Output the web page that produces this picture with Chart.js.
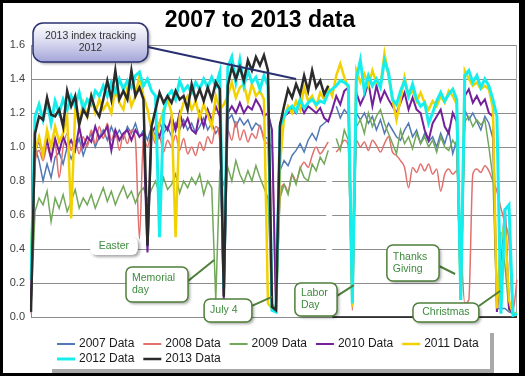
<!DOCTYPE html>
<html>
<head>
<meta charset="utf-8">
<script src="https://cdn.jsdelivr.net/npm/chart.js@4.4.1/dist/chart.umd.min.js"></script>
<style>
  html, body { margin: 0; padding: 0; background: #fff; }
  #frame { width: 516px; height: 370px; border-style: solid; border-color: #000; border-width: 3px 6px 3px 3px; }
  canvas { display: block; }
</style>
</head>
<body>
<div id="frame"><canvas id="myChart" width="516" height="370"></canvas></div>
<script>
// series names, one per year
const seriesNames = ["2007 Data", "2008 Data", "2009 Data", "2010 Data", "2011 Data", "2012 Data", "2013 Data"];

// index values, one point every ~3 days through the year
const data2007 = [
  0.06, 1.0, 0.92, 0.8, 0.9, 0.82, 0.94, 0.97, 0.9, 1.0,
  0.93, 0.99, 1.05, 0.95, 1.02, 1.08, 1.0, 1.06, 1.1, 1.04,
  1.12, 1.06, 1.1, 1.05, 1.12, 1.08, 1.14, 1.06, 1.1, 1.04,
  1.12, 1.06, 1.15, 1.08, 1.12, 1.06, 1.14, 1.1, 1.16, 1.1,
  1.14, 1.08, 1.12, 1.17, 1.1, 1.14, 1.08, 1.12, 0.13, 1.16,
  1.19, 1.12, 1.17, 1.13, 1.16, 1.1, 1.14, 1.12, 1.06, 1.05,
  0.05, 0.06, 0.86, 0.92, 0.89, 0.95, 0.98, 1.02, 0.97, 1.04,
  1.08, 1.04, 1.12, 1.14, 1.16, null, 1.24, 1.17, 1.22, 1.19,
  0.09, 1.2, 1.16, 1.2, 1.14, 1.18, 1.1, 1.16, 1.08, 1.14,
  1.1, 1.06, 1.04, 1.1, 1.14, 1.06, 1.1, 1.02, 1.08, 1.03,
  1.06, 1.0, 1.08, 1.02, 1.1, 0.96, 1.04, 0.1, 1.22, 1.16,
  1.2, 1.15, 1.1, 1.18, 1.14, 1.05, 0.05, 0.05, 0.05, 0.03,
  0.02, 0.02
];
const data2008 = [
  0.02, 0.9, 0.98, 0.92, 1.0, 0.94, 1.02, 0.82, 1.0, 1.08,
  0.98, 1.04, 0.96, 1.06, 1.0, 1.1, 1.02, 1.12, 1.05, 1.14,
  1.04, 1.1, 0.98, 1.08, 1.02, 1.1, 1.04, 0.46, 1.06, 1.0,
  1.08, 1.02, 1.06, 0.97, 1.04, 1.0, 1.07, 0.98, 1.05, 0.96,
  1.0, 0.95, 1.03, 0.98, 1.06, 1.02, 1.12, 1.04, 0.13, 1.1,
  1.04, 1.15, 1.04, 1.1, 1.03, 1.08, 1.05, 1.13, 1.04, 1.02,
  1.0, 0.06, 0.7, 0.78, 0.74, 0.84, 0.8, 0.87, 0.91, 0.88,
  0.95, 1.0, 0.96, 0.99, 1.03, null, 0.97, 1.0, 1.04, 1.01,
  0.04, 1.04, 1.0, 1.03, 0.98, 1.04, 1.01, 0.97, 1.02, 1.06,
  0.97, 0.95, 0.92, 0.88, 0.76, 0.88, 0.85, 0.9, 0.86, 0.9,
  0.84, 0.87, 0.74, 0.84, 0.87, 0.84, 0.86, 0.45, 0.08, 0.1,
  0.84, 0.87, 0.85, 0.89, 0.86, 0.8, 0.74, 0.64, 0.55, 0.45,
  0.04, 0.22
];
const data2009 = [
  0.05, 0.62, 0.7, 0.66, 0.74, 0.56, 0.7, 0.64, 0.72, 0.62,
  0.68, 0.75, 0.64, 0.7, 0.66, 0.72, 0.64, 0.7, 0.76, 0.68,
  0.74, 0.66, 0.72, 0.77, 0.7, 0.74, 0.67, 0.73, 0.76, 0.69,
  0.75, 0.8, 0.72, 0.82, 0.75, 0.78, 0.84, 0.73, 0.8, 0.76,
  0.82, 0.78, 0.84, 0.72, 0.8, 0.76, 0.1, 0.85, 0.78, 0.88,
  0.8, 0.92, 0.84, 0.79, 0.86, 0.8, 0.89, 0.82, 0.76, 0.7,
  0.08, 0.05, 0.7, 0.78, 0.72, 0.84, 0.78, 0.88, 0.82, 0.8,
  0.9, 0.86, 0.94, 0.9, 0.98, null, 1.05, 0.98, 1.1, 1.04,
  0.09, 1.12, 1.16, 1.08, 1.2, 1.12, 1.18, 1.22, 1.14, 1.08,
  1.02, 0.96, 1.1, 1.02, 1.06, 0.99, 1.08, 1.02, 1.06, 1.0,
  1.04, 0.97, 1.06, 1.0, 0.98, 1.04, 1.0, 0.1, 1.15, 1.18,
  1.12, 1.16, 1.13, 1.16, 1.0, 0.82, 0.05, 0.5, 0.3, 0.04,
  0.02, 0.02
];
const data2010 = [
  0.1, 0.98, 1.04, 0.95, 1.04, 0.93, 1.05, 0.97, 1.06, 1.0,
  1.04, 0.98, 1.12, 1.0, 1.06, 1.03, 1.12, 1.05, 1.08, 1.12,
  0.98, 1.1, 1.04, 1.08, 1.1, 1.04, 1.1, 1.06, 1.08, 0.38,
  1.08, 1.12, 1.06, 1.14, 1.1, 1.18, 1.1, 1.2, 1.12, 1.17,
  1.1, 1.08, 1.2, 1.12, 1.22, 1.16, 1.24, 1.18, 0.1, 1.2,
  1.24, 1.2, 1.26, 1.2, 1.24, 1.22, 1.28, 1.24, 1.18, 1.2,
  1.1, 0.05, 1.14, 1.18, 1.2, 1.23, 1.2, 1.26, 1.2, 1.24,
  1.22, 1.2, 1.23, 1.17, 1.15, 1.22, 1.3, 1.25, 1.33, 1.35,
  0.09, 1.32, 1.25, 1.3, 1.38, 1.24, 1.36, 1.27, 1.33, 1.28,
  1.24, 1.2, 1.26, 1.32, 1.22, 1.29, 1.22, 1.2, 1.1, 1.04,
  1.14, 1.18, 1.22, 1.12, 1.08, 1.2, 1.15, 0.1, 1.3, 1.34,
  1.26, 1.3, 1.25, 1.28, 1.2, 1.18, 0.03, 0.3, 0.64, 0.05,
  0.02, 0.02
];
const data2011 = [
  0.35, 0.98, 1.06, 0.95, 1.1, 1.0, 1.12, 1.03, 1.08, 1.18,
  0.58, 1.22, 1.14, 1.26, 1.18, 1.3, 1.2, 1.28, 1.22, 1.26,
  1.2, 1.34, 1.26, 1.22, 1.35, 1.24, 1.3, 1.42, 1.3, 1.22,
  1.1, 1.04, 1.14, 1.22, 1.28, 1.2, 0.47, 1.18, 1.26, 1.3,
  1.22, 1.27, 1.17, 1.25, 1.19, 1.12, 1.3, 1.22, 1.25, 1.3,
  1.38, 1.29, 1.35, 1.37, 1.27, 1.37, 1.3, 1.33, 1.28, 0.08,
  0.05, 0.05, 0.9, 1.17, 1.24, 1.2, 1.27, 1.22, 1.35, 1.27,
  1.3, 1.24, 1.32, 1.28, 1.35, 1.3, 1.42, 1.49, 1.41, 1.35,
  0.06, 1.45, 1.38, 1.43, 1.36, 1.45, 1.38, 1.36, 1.55, 1.42,
  1.28, 1.16, 1.28, 1.41, 1.3, 1.33, 1.27, 1.32, 1.26, 1.22,
  1.27, 1.24, 1.3, 1.26, 1.33, 1.3, 1.25, 0.1, 1.45, 1.4,
  1.36, 1.38, 1.34, 1.36, 1.34, 1.23, 0.05, 0.45, 0.55, 0.1,
  0.02, 0.02
];
const data2012 = [
  0.22, 1.18, 1.25, 1.16, 1.27, 1.14, 1.27, 1.2, 1.28, 1.22,
  1.3, 1.24, 1.32, 1.22, 1.28, 1.25, 1.33, 1.3, 1.36, 1.3,
  1.38, 1.32, 1.4, 1.34, 1.39, 1.35, 1.42, 1.44, 1.36, 1.4,
  1.33, 1.3, 0.47, 1.2, 1.3, 1.33, 1.28, 1.39, 1.33, 1.36,
  1.32, 1.38, 1.34, 1.4, 1.35, 1.41, 1.36, 1.44, 0.17, 1.47,
  1.53, 1.38, 1.51, 1.36, 1.45, 1.38, 1.41, 1.34, 1.42, 1.36,
  0.04, 0.03, 1.12, 1.18, 1.22, 1.24, 1.21, 1.28, 1.23, 1.26,
  1.28, 1.25, 1.27, 1.26, 1.32, 1.34, 1.36, 1.39, 1.38, 1.36,
  0.08, 1.4, 1.51, 1.33, 1.42, 1.36, 1.4, 1.35, 1.51, 1.44,
  1.28, 1.25, 1.33, 1.39, 1.3, 1.37, 1.28, 1.24, 1.26, 1.14,
  1.2, 1.27, 1.32, 1.27, 1.31, 1.34, 1.28, 0.1, 1.42, 1.45,
  1.38, 1.42, 1.35, 1.4, 1.36, 1.28, 1.18, 0.02, 0.63, 0.66,
  0.01, 0.02
];
// 2013 stops in early September
const data2013 = [
  0.03, 1.08, 1.18, 1.16, 1.29, 1.19, 1.18, 1.22, 1.12, 1.33,
  1.24, 1.3, 1.13, 1.22, 1.18, 1.3, 1.22, 1.18, 1.28, 1.39,
  1.28, 1.45, 1.28, 1.33, 1.28, 1.45, 1.3, 1.35, 1.28, 0.42,
  1.12, 1.22, 1.32, 1.26, 1.3, 1.26, 1.33, 1.28, 1.3, 1.22,
  1.37, 1.28, 1.34, 1.27, 1.35, 1.28, 1.38, 1.34, 0.12, 1.36,
  1.47, 1.4, 1.47, 1.39, 1.51, 1.45, 1.53, 1.48, 1.54, 1.45,
  0.06, 0.04, 1.13, 1.24, 1.34, 1.29, 1.37, 1.31, 1.42, 1.33,
  1.45, 1.35, 1.39, 1.31, 1.36
];

const allSeries = [data2007, data2008, data2009, data2010, data2011, data2012, data2013];
const dayIndex = data2012.map((v, i) => i);

const lineColors = ["#5079b6", "#e2706d", "#72a85a", "#74209a", "#f2d100", "#16eeee", "#2b2b2b"];
const lineWidths = [1.5, 1.5, 1.5, 2, 2.5, 3, 2.5];

// callouts, boxes given in data units [x0, yTop, x1, yBottom], tip = pointer line
const callouts = [
  { lines: ["2013 index tracking", "2012"], box: [0.5, 1.729, 29.1, 1.5], tip: [29.1, 1.588, 66.0, 1.4], kind: "index", align: "center" },
  { lines: ["Easter"], box: [14.7, 0.471, 26.6, 0.365], kind: "plain", align: "center" },
  { lines: ["Memorial", "day"], box: [23.65, 0.294, 39.1, 0.088], tip: [39.1, 0.212, 45.6, 0.335], kind: "green", align: "left" },
  { lines: ["July 4"], box: [43.1, 0.106, 55.0, -0.029], tip: [55.0, 0.065, 60.0, 0.118], kind: "green", align: "left" },
  { lines: ["Labor", "Day"], box: [65.7, 0.2, 76.2, 0.006], tip: [76.2, 0.124, 80.4, 0.188], kind: "green", align: "left" },
  { lines: ["Thanks", "Giving"], box: [88.6, 0.424, 101.6, 0.212], tip: [101.6, 0.3, 105.6, 0.253], kind: "green", align: "left" },
  { lines: ["Christmas"], box: [95.1, 0.082, 111.5, -0.029], tip: [111.5, 0.065, 116.8, 0.153], kind: "green", align: "center" }
];

// where the two pasted halves of the original chart meet
const seamSpan = [73.5, 75.0];

const FONT = '"Liberation Sans", Arial, sans-serif';
Chart.defaults.font.family = FONT;

function roundRect(ctx, x, y, w, h, r) {
  ctx.beginPath();
  ctx.moveTo(x + r, y);
  ctx.arcTo(x + w, y, x + w, y + h, r);
  ctx.arcTo(x + w, y + h, x, y + h, r);
  ctx.arcTo(x, y + h, x, y, r);
  ctx.arcTo(x, y, x + w, y, r);
  ctx.closePath();
}

function drawCallout(ctx, xs, ys, c) {
  const x0 = xs.getPixelForValue(c.box[0]);
  const y0 = ys.getPixelForValue(c.box[1]);
  const x1 = xs.getPixelForValue(c.box[2]);
  const y1 = ys.getPixelForValue(c.box[3]);
  const isIndex = c.kind === "index";
  const edge = isIndex ? "#283070" : "#4f7f3a";

  // pointer line
  if (c.tip) {
    ctx.save();
    ctx.strokeStyle = edge;
    ctx.lineWidth = 2;
    ctx.beginPath();
    ctx.moveTo(xs.getPixelForValue(c.tip[0]), ys.getPixelForValue(c.tip[1]));
    ctx.lineTo(xs.getPixelForValue(c.tip[2]), ys.getPixelForValue(c.tip[3]));
    ctx.stroke();
    ctx.restore();
  }

  // box with soft shadow
  ctx.save();
  ctx.shadowColor = "rgba(0,0,0,0.35)";
  ctx.shadowBlur = 3;
  ctx.shadowOffsetX = 2;
  ctx.shadowOffsetY = 2;
  roundRect(ctx, x0, y0, x1 - x0, y1 - y0, isIndex ? 10 : 6);
  if (isIndex) {
    const g = ctx.createLinearGradient(0, y0, 0, y1);
    g.addColorStop(0, "#ffffff");
    g.addColorStop(0.5, "#d8d8f0");
    g.addColorStop(1, "#a3a5d8");
    ctx.fillStyle = g;
  } else {
    ctx.fillStyle = "#ffffff";
  }
  ctx.fill();
  ctx.restore();
  if (c.kind !== "plain") {
    ctx.save();
    ctx.strokeStyle = edge;
    ctx.lineWidth = 1.5;
    roundRect(ctx, x0, y0, x1 - x0, y1 - y0, isIndex ? 10 : 6);
    ctx.stroke();
    ctx.restore();
  }

  // text
  ctx.save();
  ctx.font = "10.5px " + FONT;
  ctx.fillStyle = isIndex ? "#333333" : "#3d8b3d";
  ctx.textBaseline = "middle";
  ctx.textAlign = c.align === "left" ? "left" : "center";
  const tx = c.align === "left" ? x0 + 6 : (x0 + x1) / 2;
  const lh = 12;
  const cy = (y0 + y1) / 2 - (c.lines.length - 1) * lh / 2;
  c.lines.forEach((t, k) => ctx.fillText(t, tx, cy + k * lh));
  ctx.restore();
}

const sketchPlugin = {
  id: "sketch",
  beforeDatasetsDraw(chart) {
    const { ctx, chartArea: a, scales: { x, y } } = chart;
    ctx.save();
    // white seam through the grid
    const sx0 = x.getPixelForValue(seamSpan[0]);
    const sx1 = x.getPixelForValue(seamSpan[1]);
    const sy0 = y.getPixelForValue(1.15);
    const sy1 = y.getPixelForValue(0.004);
    ctx.fillStyle = "#ffffff";
    ctx.fillRect(sx0, sy0, sx1 - sx0, sy1 - sy0);
    // right edge of the plot box
    ctx.strokeStyle = "#a8a8a8";
    ctx.lineWidth = 1;
    ctx.beginPath();
    ctx.moveTo(a.right - 0.5, a.top);
    ctx.lineTo(a.right - 0.5, a.bottom);
    ctx.stroke();
    // darker base line on the right half
    ctx.strokeStyle = "#111111";
    ctx.lineWidth = 1.5;
    ctx.beginPath();
    ctx.moveTo(sx1, a.bottom);
    ctx.lineTo(a.right, a.bottom);
    ctx.stroke();
    ctx.restore();
  },
  afterDatasetsDraw(chart) {
    const { ctx, scales: { x, y } } = chart;
    callouts.forEach((c) => drawCallout(ctx, x, y, c));
  },
  afterDraw(chart) {
    const ctx = chart.ctx;
    ctx.save();
    // legend box with its shadow
    ctx.fillStyle = "#a9a9a9";
    ctx.fillRect(49, 330, 442, 40);
    ctx.fillStyle = "#ffffff";
    ctx.fillRect(45, 326, 442, 40);
    ctx.font = "12px " + FONT;
    ctx.textBaseline = "middle";
    chart.data.datasets.forEach((ds, i) => {
      const lx = 54 + (i % 5) * 86.3;
      const ly = 341 + Math.floor(i / 5) * 15;
      ctx.strokeStyle = ds.borderColor;
      ctx.lineWidth = Math.max(2, Math.min(3, ds.borderWidth));
      ctx.beginPath();
      ctx.moveTo(lx, ly);
      ctx.lineTo(lx + 18, ly);
      ctx.stroke();
      ctx.fillStyle = "#1a1a1a";
      ctx.fillText(ds.label, lx + 22, ly);
    });
    ctx.restore();
  }
};

const chartContext = document.getElementById("myChart").getContext("2d");

const chart = new Chart(chartContext, {
  type: "line",
  data: {
    labels: dayIndex,
    datasets: allSeries.map((vals, i) => ({
      label: seriesNames[i],
      data: vals,
      borderColor: lineColors[i],
      backgroundColor: lineColors[i],
      borderWidth: lineWidths[i],
      pointRadius: 0,
      order: allSeries.length - 1 - i,
      cubicInterpolationMode: i === 1 ? "monotone" : "default",
      tension: 0,
      spanGaps: false,
    })),
  },
  options: {
    responsive: false,
    animation: false,
    layout: { padding: { top: 0, right: 2, bottom: 56, left: 0 } },
    plugins: {
      legend: { display: false },
      tooltip: { enabled: false },
      title: {
        display: true,
        text: "2007 to 2013 data",
        color: "#000000",
        font: { size: 23, weight: "bold", family: FONT },
        padding: { top: 4, bottom: 10.4 },
      },
    },
    scales: {
      x: { display: false },
      y: {
        min: 0,
        max: 1.6,
        afterFit: (scale) => { scale.width = 28; },
        ticks: {
          stepSize: 0.2,
          padding: 6,
          color: "#404040",
          font: { size: 11 },
          callback: (v) => Number(v).toFixed(1),
        },
        grid: { color: "#8c8c8c", drawTicks: false },
        border: { color: "#8c8c8c" },
      },
    },
  },
  plugins: [sketchPlugin],
});
</script>
</body>
</html>
